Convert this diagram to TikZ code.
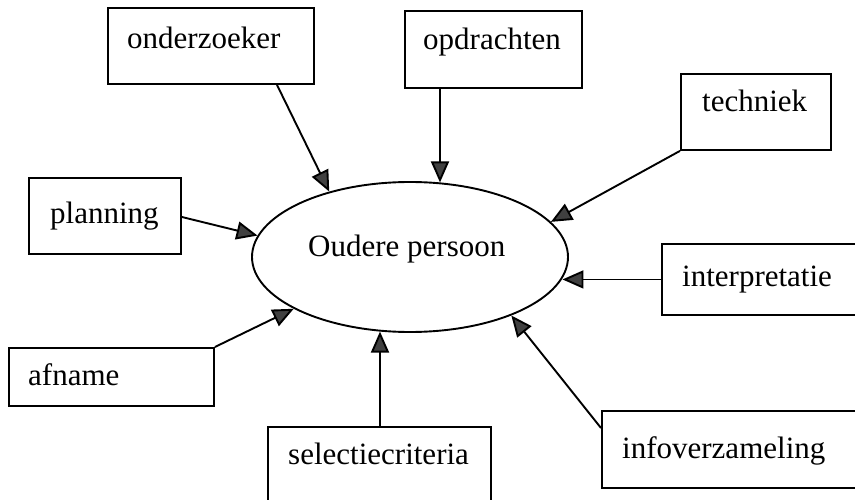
\documentclass[tikz,border=0pt]{standalone}
\usepackage{fontspec}
\setmainfont{Liberation Serif}
\usetikzlibrary{shapes.geometric,arrows.meta,calc}
\begin{document}
\begin{tikzpicture}[x=1pt,y=1pt,
  box/.style={draw, line width=1.9pt, rectangle, inner sep=0pt, anchor=north west},
  lbl/.style={anchor=base west, inner sep=0pt, font=\fontsize{31}{37}\selectfont},
  conn/.style={line width=1.9pt, -{Triangle[length=21pt,width=18pt,fill=black!75]}}
]
\useasboundingbox (0,0) rectangle (855,499);
\fill[white] (0,0) rectangle (855,499);
\clip (0,0) rectangle (855,499);

% central ellipse
\node[draw, ellipse, line width=1.9pt, inner sep=0pt, minimum width=316pt, minimum height=150pt] (ell) at (410,242) {};
\node[lbl] (elltxt) at (308,242) {Oudere persoon};

% boxes
\node[box, minimum width=206pt, minimum height=76pt] (ond) at (107,492) {};
\node[lbl] (ondtxt) at (127,450) {onderzoeker};

\node[box, minimum width=177pt, minimum height=77pt] (opd) at (404,489) {};
\node[lbl] (opdtxt) at (423,449) {opdrachten};

\node[box, minimum width=150pt, minimum height=76pt] (tech) at (680,426) {};
\node[lbl] (techtxt) at (702,387) {techniek};

\node[box, minimum width=152pt, minimum height=76pt] (plan) at (28,322) {};
\node[lbl] (plantxt) at (50,276) {planning};

\node[box, minimum width=250pt, minimum height=71pt] (interp) at (661,256) {};
\node[lbl] (interptxt) at (682,212) {interpretatie};

\node[box, minimum width=205pt, minimum height=58pt] (afn) at (8,152) {};
\node[lbl] (afntxt) at (28,114) {afname};

\node[box, minimum width=223pt, minimum height=90pt] (sel) at (267,73) {};
\node[lbl] (seltxt) at (288,35) {selectiecriteria};

\node[box, minimum width=300pt, minimum height=77pt] (info) at (601,89) {};
\node[lbl] (infotxt) at (622,41) {infoverzameling};

% connector start points on box borders
\coordinate (ondS) at ($(ond.south west)+(170,0)$);
\coordinate (opdS) at ($(opd.south west)+(36,0)$);
\coordinate (planS) at ($(plan.north east)+(0,-40)$);
\coordinate (selS) at ($(sel.north west)+(113,0)$);
\coordinate (infoS) at ($(info.north west)+(0,-18)$);

% connectors
\draw[conn] (ondS) -- (ell.141);
\draw[conn] (opdS) -- (opdS |- ell.68);
\draw[conn] (tech.south west) -- (ell.14);
\draw[conn] (planS) -- (ell.172);
\draw[conn] (afn.north east) -- (ell.204);
\draw[conn] (interp.west) -- (interp.west -| ell.352);
\draw[conn] (selS) -- (selS |- ell.248);
\draw[conn] (infoS) -- (ell.330);
\end{tikzpicture}
\end{document}
